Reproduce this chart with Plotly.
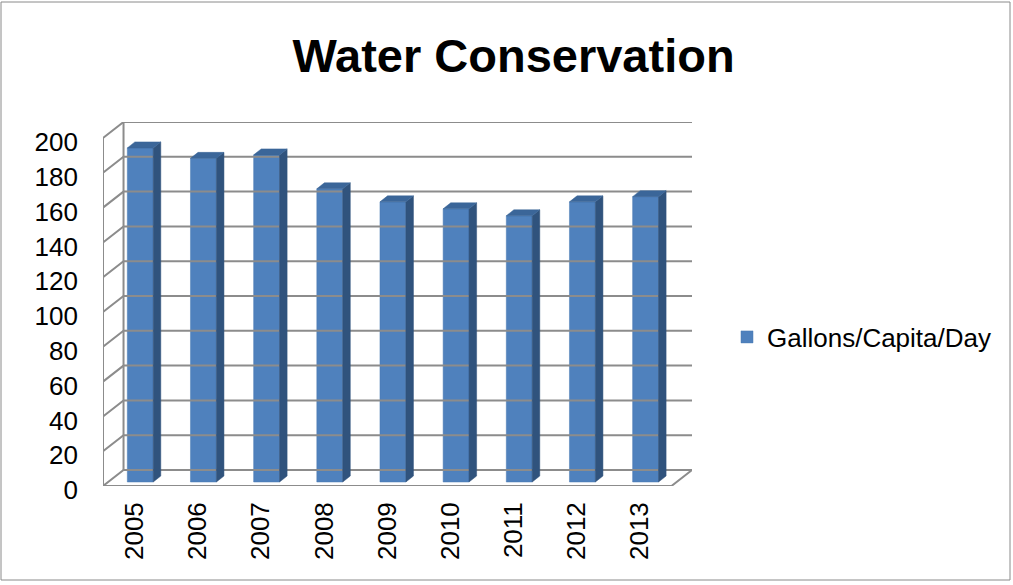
import plotly.graph_objects as go

# ---- data ----
years = ["2005", "2006", "2007", "2008", "2009", "2010", "2011", "2012", "2013"]
gallons = [192, 186, 188, 168.5, 161, 157, 153, 161, 164]
y_ticks = [0, 20, 40, 60, 80, 100, 120, 140, 160, 180, 200]
series_name = "Gallons/Capita/Day"
title_text = "Water Conservation"

# ---- geometry / style (3D look emulation) ----
W, H = 1013, 585
PL, PR, PT, PB = 103, 692, 122, 486          # plot area in pixels
DX, DY = 0.325, 9.2                          # wall depth (x in categories, y in value units)
BAR_SHIFT, BAR_W, BAR_BASE = 0.09, 0.41, 2.3  # bar front face
BDX, BDY = 0.12, 3.45                         # bar depth
FONT = "Arial, Liberation Sans, sans-serif"
GRID = "#8c8c8c"
FRONT, SIDE, TOP = "#4F81BD", "#30537D", "#3B6699"

n = len(years)
xs = list(range(n))
x0, x1 = -0.5, n - 0.5
ymax = max(y_ticks)

def px_x(p):
    return (p - PL) / (PR - PL)

def px_y(p):
    return (PB - p) / (PB - PT)

fig = go.Figure()

# gridlines: back wall + left wall diagonals + frame
gx, gy = [], []
for v in y_ticks:
    gx += [x0, x0 + DX, x1 + DX, None]
    gy += [v, v + DY, v + DY, None]
gx += [x0, x0, None, x0 + DX, x0 + DX, None, x0, x1, x1 + DX, None]
gy += [0, ymax, None, DY, ymax + DY, None, 0, 0, DY, None]
fig.add_trace(go.Scatter(x=gx, y=gy, mode="lines", line=dict(color=GRID, width=2),
                         hoverinfo="skip", showlegend=False))

# bar side and top faces
sx, sy, tx, ty = [], [], [], []
for i, v in enumerate(gallons):
    xl = xs[i] + BAR_SHIFT - BAR_W / 2
    xr = xs[i] + BAR_SHIFT + BAR_W / 2
    b = BAR_BASE
    sx += [xr, xr + BDX, xr + BDX, xr, xr, None]
    sy += [b, b + BDY, b + v + BDY, b + v, b, None]
    tx += [xl, xl + BDX, xr + BDX, xr, xl, None]
    ty += [b + v, b + v + BDY, b + v + BDY, b + v, b + v, None]
fig.add_trace(go.Scatter(x=sx, y=sy, mode="lines", fill="toself", fillcolor=SIDE,
                         line=dict(color=SIDE, width=0.5), hoverinfo="skip", showlegend=False))
fig.add_trace(go.Scatter(x=tx, y=ty, mode="lines", fill="toself", fillcolor=TOP,
                         line=dict(color=TOP, width=0.5), hoverinfo="skip", showlegend=False))

# bar front faces
fig.add_trace(go.Bar(x=[x + BAR_SHIFT for x in xs], y=gallons, base=[BAR_BASE] * n,
                     width=BAR_W, name=series_name,
                     marker=dict(color=FRONT, line=dict(color="#4A7AB3", width=0.5))))

fig.update_layout(
    width=W, height=H,
    margin=dict(l=PL, r=W - PR, t=PT, b=H - PB, pad=0),
    paper_bgcolor="white", plot_bgcolor="white",
    font=dict(family=FONT, size=26, color="black"),
    barmode="overlay",
    title=dict(text="<b>" + title_text + "</b>", font=dict(family=FONT, size=47, color="black"),
               xref="container", yref="container", x=513.5 / W, y=1 - 56 / H,
               xanchor="center", yanchor="middle"),
    showlegend=True,
    legend=dict(xref="container", yref="container", x=727 / W, y=1 - 337 / H,
                xanchor="left", yanchor="middle", font=dict(family=FONT, size=26, color="black"),
                bgcolor="rgba(0,0,0,0)"),
    xaxis=dict(range=[x0, x1 + DX], tickmode="array", tickvals=xs, ticktext=years,
               tickangle=-90, showgrid=False, zeroline=False, showline=False, ticks="",
               ticklabelstandoff=10, fixedrange=True),
    yaxis=dict(range=[0, ymax + DY], tickmode="array", tickvals=y_ticks,
               ticktext=[str(t) for t in y_ticks], showgrid=False, zeroline=False,
               showline=False, ticks="", ticklabelstandoff=24, ticklabelshift=4,
               fixedrange=True),
    shapes=[dict(type="rect", xref="paper", yref="paper",
                 x0=px_x(1), x1=px_x(1010), y0=px_y(580), y1=px_y(2),
                 line=dict(color="#8a8a8a", width=1), layer="below")],
)

fig.write_html("out.html", config={"displayModeBar": False},
               post_script="document.body.style.margin='0px';document.body.style.overflow='hidden';")
